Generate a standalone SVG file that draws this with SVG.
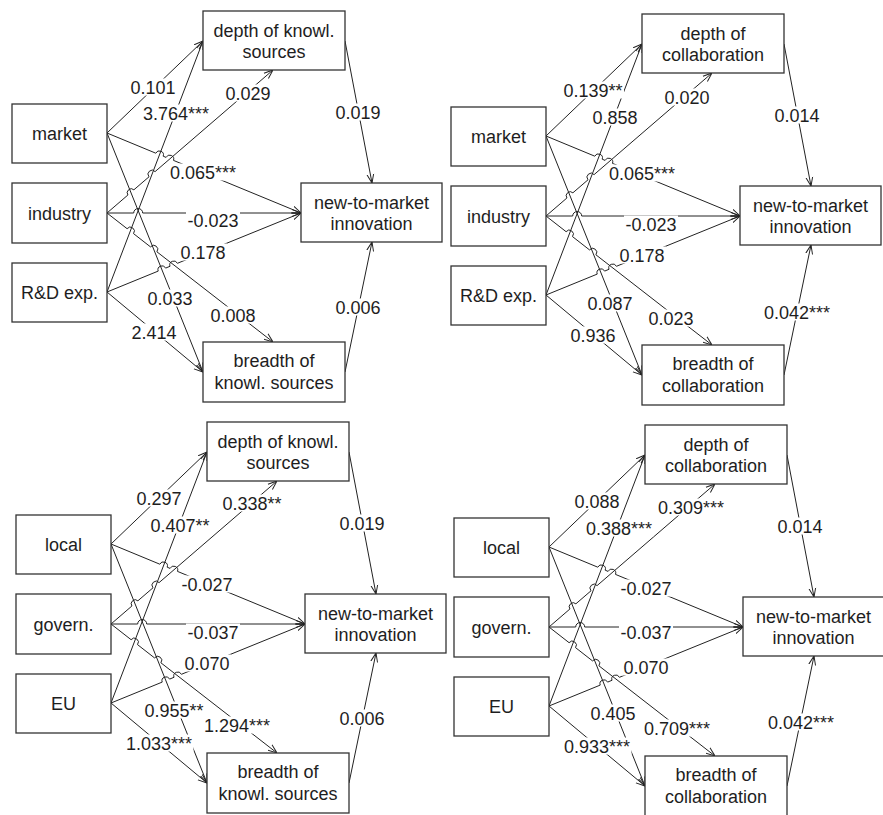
<svg xmlns="http://www.w3.org/2000/svg" width="883" height="815" viewBox="0 0 883 815">
<style>
.box{fill:#fff;stroke:#333;stroke-width:1.3}
.t{font-family:"Liberation Sans",Arial,sans-serif;font-size:18px;fill:#1e1e1e;text-anchor:middle}
.c{fill:none;stroke:#222;stroke-width:1;marker-end:url(#arr)}
.lb{fill:#fff}
</style>
<defs>
<marker id="arr" viewBox="0 0 10 10" refX="10" refY="5" markerWidth="9" markerHeight="9" markerUnits="userSpaceOnUse" orient="auto">
<path d="M0,1.2 L10,5 L0,8.8" fill="none" stroke="#222" stroke-width="1.1"/>
</marker>
</defs>
<rect width="883" height="815" fill="#fff"/>

<!-- Panel 1 -->
<g id="p1" transform="translate(0,0)">
<g id="p1-connectors">
<path class="c" d="M107,133 L203,41"/>
<path class="c" d="M107,292 L203,41"/>
<path class="c" d="M107,213 L127.9,195.0 A4,4 0 0 1 133.9,189.8 L149.0,176.8 A4,4 0 0 1 155.1,171.6 L273,70"/>
<path class="c" d="M107,133 L155.8,153.2 A4,4 0 0 1 163.2,156.2 L166.1,157.4 A4,4 0 0 1 173.5,160.4 L301,213"/>
<path class="c" d="M107,213 L133.7,213 A4.5,4.5 0 0 1 142.7,213 L301,213"/>
<path class="c" d="M107,292 L158.2,271.1 A4,4 0 0 1 165.6,268.1 L170.0,266.3 A4,4 0 0 1 177.4,263.3 L301,213"/>
<path class="c" d="M107,133 L203,372"/>
<path class="c" d="M107,213 L127.1,228.7 A4,4 0 0 1 133.5,233.6 L150.5,246.9 A4,4 0 0 1 156.9,251.8 L273,342"/>
<path class="c" d="M107,292 L203,372"/>
<path class="c" d="M345,41 L372,183"/>
<path class="c" d="M345,372 L372,242"/>
<rect class="lb" x="129" y="78.5" width="48" height="17"/><text class="t" x="153" y="93.5">0.101</text>
<rect class="lb" x="141.5" y="104.5" width="69" height="17"/><text class="t" x="176" y="119.5">3.764***</text>
<rect class="lb" x="224" y="84.5" width="48" height="17"/><text class="t" x="248" y="99.5">0.029</text>
<rect class="lb" x="168.5" y="163.5" width="69" height="17"/><text class="t" x="203" y="178.5">0.065***</text>
<rect class="lb" x="186" y="211.5" width="54" height="17"/><text class="t" x="213" y="226.5">-0.023</text>
<rect class="lb" x="179" y="243.5" width="48" height="17"/><text class="t" x="203" y="258.5">0.178</text>
<rect class="lb" x="146" y="289.5" width="48" height="17"/><text class="t" x="170" y="304.5">0.033</text>
<rect class="lb" x="209" y="306.5" width="48" height="17"/><text class="t" x="233" y="321.5">0.008</text>
<rect class="lb" x="130" y="323.5" width="48" height="17"/><text class="t" x="154" y="338.5">2.414</text>
<rect class="lb" x="334" y="103.5" width="48" height="17"/><text class="t" x="358" y="118.5">0.019</text>
<rect class="lb" x="334" y="298.5" width="48" height="17"/><text class="t" x="358" y="313.5">0.006</text>
</g>
<g id="p1-market"><rect class="box" x="12" y="104" width="95" height="59"/><text class="t" x="59.5" y="140">market</text></g>
<g id="p1-industry"><rect class="box" x="12" y="183" width="95" height="60"/><text class="t" x="59.5" y="219.5">industry</text></g>
<g id="p1-rd"><rect class="box" x="12" y="263" width="95" height="59"/><text class="t" x="59.5" y="299">R&amp;D exp.</text></g>
<g id="p1-depth"><rect class="box" x="203" y="11" width="142" height="59"/><text class="t" x="274" y="36.5">depth of knowl.</text><text class="t" x="274" y="57.5">sources</text></g>
<g id="p1-new"><rect class="box" x="301" y="183" width="141" height="59"/><text class="t" x="371.5" y="209">new-to-market</text><text class="t" x="371.5" y="230">innovation</text></g>
<g id="p1-breadth"><rect class="box" x="203" y="342" width="142" height="60"/><text class="t" x="274" y="367">breadth of</text><text class="t" x="274" y="389">knowl. sources</text></g>
</g>

<!-- Panel 2 -->
<g id="p2" transform="translate(439,3)">
<g id="p2-connectors">
<path class="c" d="M107,133 L203,41"/>
<path class="c" d="M107,292 L203,41"/>
<path class="c" d="M107,213 L127.9,195.0 A4,4 0 0 1 133.9,189.8 L149.0,176.8 A4,4 0 0 1 155.1,171.6 L273,70"/>
<path class="c" d="M107,133 L155.8,153.2 A4,4 0 0 1 163.2,156.2 L166.1,157.4 A4,4 0 0 1 173.5,160.4 L301,213"/>
<path class="c" d="M107,213 L133.7,213 A4.5,4.5 0 0 1 142.7,213 L301,213"/>
<path class="c" d="M107,292 L158.2,271.1 A4,4 0 0 1 165.6,268.1 L170.0,266.3 A4,4 0 0 1 177.4,263.3 L301,213"/>
<path class="c" d="M107,133 L203,372"/>
<path class="c" d="M107,213 L127.1,228.7 A4,4 0 0 1 133.5,233.6 L150.5,246.9 A4,4 0 0 1 156.9,251.8 L273,342"/>
<path class="c" d="M107,292 L203,372"/>
<path class="c" d="M345,41 L372,183"/>
<path class="c" d="M345,372 L372,242"/>
<rect class="lb" x="123" y="78.5" width="62" height="17"/><text class="t" x="154" y="93.5">0.139**</text>
<rect class="lb" x="152" y="105.5" width="48" height="17"/><text class="t" x="176" y="120.5">0.858</text>
<rect class="lb" x="224" y="85.5" width="48" height="17"/><text class="t" x="248" y="100.5">0.020</text>
<rect class="lb" x="168.5" y="161.5" width="69" height="17"/><text class="t" x="203" y="176.5">0.065***</text>
<rect class="lb" x="185" y="212.5" width="54" height="17"/><text class="t" x="212" y="227.5">-0.023</text>
<rect class="lb" x="179" y="243.5" width="48" height="17"/><text class="t" x="203" y="258.5">0.178</text>
<rect class="lb" x="147" y="291.5" width="48" height="17"/><text class="t" x="171" y="306.5">0.087</text>
<rect class="lb" x="208" y="306.5" width="48" height="17"/><text class="t" x="232" y="321.5">0.023</text>
<rect class="lb" x="130" y="323.5" width="48" height="17"/><text class="t" x="154" y="338.5">0.936</text>
<rect class="lb" x="334" y="103.5" width="48" height="17"/><text class="t" x="358" y="118.5">0.014</text>
<rect class="lb" x="323.5" y="300.5" width="69" height="17"/><text class="t" x="358" y="315.5">0.042***</text>
</g>
<g id="p2-market"><rect class="box" x="12" y="104" width="95" height="59"/><text class="t" x="59.5" y="140">market</text></g>
<g id="p2-industry"><rect class="box" x="12" y="183" width="95" height="60"/><text class="t" x="59.5" y="219.5">industry</text></g>
<g id="p2-rd"><rect class="box" x="12" y="263" width="95" height="59"/><text class="t" x="59.5" y="299">R&amp;D exp.</text></g>
<g id="p2-depth"><rect class="box" x="203" y="11" width="142" height="59"/><text class="t" x="274" y="36.5">depth of</text><text class="t" x="274" y="57.5">collaboration</text></g>
<g id="p2-new"><rect class="box" x="301" y="183" width="141" height="59"/><text class="t" x="371.5" y="209">new-to-market</text><text class="t" x="371.5" y="230">innovation</text></g>
<g id="p2-breadth"><rect class="box" x="203" y="342" width="142" height="60"/><text class="t" x="274" y="367">breadth of</text><text class="t" x="274" y="389">collaboration</text></g>
</g>

<!-- Panel 3 -->
<g id="p3" transform="translate(4,411)">
<g id="p3-connectors">
<path class="c" d="M107,133 L203,41"/>
<path class="c" d="M107,292 L203,41"/>
<path class="c" d="M107,213 L127.9,195.0 A4,4 0 0 1 133.9,189.8 L149.0,176.8 A4,4 0 0 1 155.1,171.6 L273,70"/>
<path class="c" d="M107,133 L155.8,153.2 A4,4 0 0 1 163.2,156.2 L166.1,157.4 A4,4 0 0 1 173.5,160.4 L301,213"/>
<path class="c" d="M107,213 L133.7,213 A4.5,4.5 0 0 1 142.7,213 L301,213"/>
<path class="c" d="M107,292 L158.2,271.1 A4,4 0 0 1 165.6,268.1 L170.0,266.3 A4,4 0 0 1 177.4,263.3 L301,213"/>
<path class="c" d="M107,133 L203,372"/>
<path class="c" d="M107,213 L127.1,228.7 A4,4 0 0 1 133.5,233.6 L150.5,246.9 A4,4 0 0 1 156.9,251.8 L273,342"/>
<path class="c" d="M107,292 L203,372"/>
<path class="c" d="M345,41 L372,183"/>
<path class="c" d="M345,372 L372,242"/>
<rect class="lb" x="131" y="78.5" width="48" height="17"/><text class="t" x="155" y="93.5">0.297</text>
<rect class="lb" x="145" y="105.5" width="62" height="17"/><text class="t" x="176" y="120.5">0.407**</text>
<rect class="lb" x="217" y="83.5" width="62" height="17"/><text class="t" x="248" y="98.5">0.338**</text>
<rect class="lb" x="176" y="164.5" width="54" height="17"/><text class="t" x="203" y="179.5">-0.027</text>
<rect class="lb" x="182" y="212.5" width="54" height="17"/><text class="t" x="209" y="227.5">-0.037</text>
<rect class="lb" x="179" y="243.5" width="48" height="17"/><text class="t" x="203" y="258.5">0.070</text>
<rect class="lb" x="139" y="290.5" width="62" height="17"/><text class="t" x="170" y="305.5">0.955**</text>
<rect class="lb" x="198.5" y="305.5" width="69" height="17"/><text class="t" x="233" y="320.5">1.294***</text>
<rect class="lb" x="120.5" y="323.5" width="69" height="17"/><text class="t" x="155" y="338.5">1.033***</text>
<rect class="lb" x="334" y="103.5" width="48" height="17"/><text class="t" x="358" y="118.5">0.019</text>
<rect class="lb" x="334" y="298.5" width="48" height="17"/><text class="t" x="358" y="313.5">0.006</text>
</g>
<g id="p3-local"><rect class="box" x="12" y="104" width="95" height="59"/><text class="t" x="59.5" y="140">local</text></g>
<g id="p3-govern"><rect class="box" x="12" y="183" width="95" height="60"/><text class="t" x="59.5" y="219.5">govern.</text></g>
<g id="p3-eu"><rect class="box" x="12" y="263" width="95" height="59"/><text class="t" x="59.5" y="299">EU</text></g>
<g id="p3-depth"><rect class="box" x="203" y="11" width="142" height="59"/><text class="t" x="274" y="36.5">depth of knowl.</text><text class="t" x="274" y="57.5">sources</text></g>
<g id="p3-new"><rect class="box" x="301" y="183" width="141" height="59"/><text class="t" x="371.5" y="209">new-to-market</text><text class="t" x="371.5" y="230">innovation</text></g>
<g id="p3-breadth"><rect class="box" x="203" y="342" width="142" height="60"/><text class="t" x="274" y="367">breadth of</text><text class="t" x="274" y="389">knowl. sources</text></g>
</g>

<!-- Panel 4 -->
<g id="p4" transform="translate(442,414)">
<g id="p4-connectors">
<path class="c" d="M107,133 L203,41"/>
<path class="c" d="M107,292 L203,41"/>
<path class="c" d="M107,213 L127.9,195.0 A4,4 0 0 1 133.9,189.8 L149.0,176.8 A4,4 0 0 1 155.1,171.6 L273,70"/>
<path class="c" d="M107,133 L155.8,153.2 A4,4 0 0 1 163.2,156.2 L166.1,157.4 A4,4 0 0 1 173.5,160.4 L301,213"/>
<path class="c" d="M107,213 L133.7,213 A4.5,4.5 0 0 1 142.7,213 L301,213"/>
<path class="c" d="M107,292 L158.2,271.1 A4,4 0 0 1 165.6,268.1 L170.0,266.3 A4,4 0 0 1 177.4,263.3 L301,213"/>
<path class="c" d="M107,133 L203,372"/>
<path class="c" d="M107,213 L127.1,228.7 A4,4 0 0 1 133.5,233.6 L150.5,246.9 A4,4 0 0 1 156.9,251.8 L273,342"/>
<path class="c" d="M107,292 L203,372"/>
<path class="c" d="M345,41 L372,183"/>
<path class="c" d="M345,372 L372,242"/>
<rect class="lb" x="131" y="78.5" width="48" height="17"/><text class="t" x="155" y="93.5">0.088</text>
<rect class="lb" x="142.5" y="105.5" width="69" height="17"/><text class="t" x="177" y="120.5">0.388***</text>
<rect class="lb" x="214.5" y="84.5" width="69" height="17"/><text class="t" x="249" y="99.5">0.309***</text>
<rect class="lb" x="177" y="165.5" width="54" height="17"/><text class="t" x="204" y="180.5">-0.027</text>
<rect class="lb" x="177" y="209.5" width="54" height="17"/><text class="t" x="204" y="224.5">-0.037</text>
<rect class="lb" x="180" y="244.5" width="48" height="17"/><text class="t" x="204" y="259.5">0.070</text>
<rect class="lb" x="147" y="290.5" width="48" height="17"/><text class="t" x="171" y="305.5">0.405</text>
<rect class="lb" x="200.5" y="305.5" width="69" height="17"/><text class="t" x="235" y="320.5">0.709***</text>
<rect class="lb" x="120.5" y="323.5" width="69" height="17"/><text class="t" x="155" y="338.5">0.933***</text>
<rect class="lb" x="334" y="103.5" width="48" height="17"/><text class="t" x="358" y="118.5">0.014</text>
<rect class="lb" x="324.5" y="299.5" width="69" height="17"/><text class="t" x="359" y="314.5">0.042***</text>
</g>
<g id="p4-local"><rect class="box" x="12" y="104" width="95" height="59"/><text class="t" x="59.5" y="140">local</text></g>
<g id="p4-govern"><rect class="box" x="12" y="183" width="95" height="60"/><text class="t" x="59.5" y="219.5">govern.</text></g>
<g id="p4-eu"><rect class="box" x="12" y="263" width="95" height="59"/><text class="t" x="59.5" y="299">EU</text></g>
<g id="p4-depth"><rect class="box" x="203" y="11" width="142" height="59"/><text class="t" x="274" y="36.5">depth of</text><text class="t" x="274" y="57.5">collaboration</text></g>
<g id="p4-new"><rect class="box" x="301" y="183" width="141" height="59"/><text class="t" x="371.5" y="209">new-to-market</text><text class="t" x="371.5" y="230">innovation</text></g>
<g id="p4-breadth"><rect class="box" x="203" y="342" width="142" height="60"/><text class="t" x="274" y="367">breadth of</text><text class="t" x="274" y="389">collaboration</text></g>
</g>
</svg>
